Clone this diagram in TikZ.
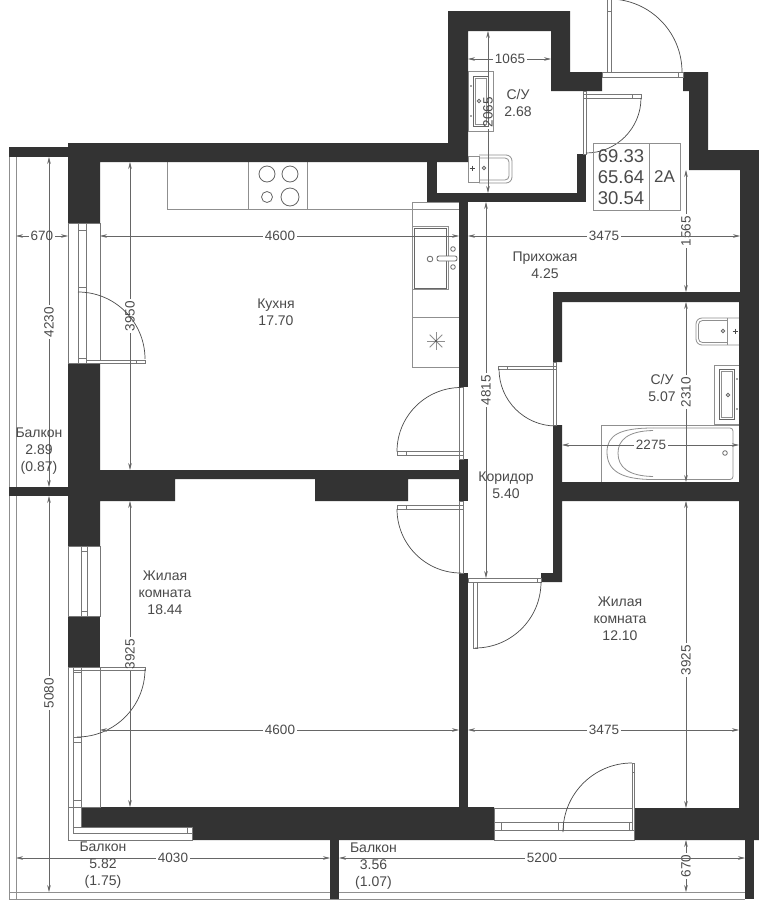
\documentclass[tikz,border=0pt]{standalone}
\usepackage{fontspec}
\setmainfont{Liberation Sans}
\usetikzlibrary{arrows.meta}
\definecolor{wallc}{HTML}{333333}
\definecolor{inkc}{HTML}{4A4A4A}
\definecolor{dimc}{HTML}{666666}
\definecolor{fixc}{HTML}{8F8F8F}
\definecolor{winc}{HTML}{777777}
\tikzset{
  x=1pt,y=-1pt,
  wall/.style={fill=wallc,draw=none},
  room/.style={align=center,text=inkc,font=\fontsize{14}{17}\selectfont,inner sep=0pt},
  tbl/.style={text=inkc,font=\fontsize{18.5}{21}\selectfont,inner sep=0pt},
  tblb/.style={text=inkc,font=\fontsize{17}{21}\selectfont,inner sep=0pt},
  dimlbl/.style={text=inkc,font=\fontsize{13.5}{14}\selectfont,inner xsep=2pt,inner ysep=0pt},
  dimln/.style={draw=dimc,line width=0.6pt,-{Stealth[length=7pt,width=3.6pt]}},
  fix/.style={draw=fixc,line width=0.8pt},
  win/.style={draw=winc,line width=0.7pt},
  swing/.style={draw=inkc,line width=0.7pt},
  bal/.style={draw=fixc,line width=0.9pt},
}
% vertical dimension: name, x, y1, y2, label, label y
\newcommand{\dimV}[6]{%
  \node[dimlbl,rotate=90] (#1) at (#2,#6) {#5};
  \coordinate (#1a) at (#2,#3);
  \coordinate (#1b) at (#2,#4);
  \draw[dimln] (#1.east) -- (#1a);
  \draw[dimln] (#1.west) -- (#1b);
}
% horizontal dimension: name, y, x1, x2, label, label x
\newcommand{\dimH}[6]{%
  \node[dimlbl] (#1) at (#6,#2) {#5};
  \coordinate (#1a) at (#3,#2);
  \coordinate (#1b) at (#4,#2);
  \draw[dimln] (#1.west) -- (#1a);
  \draw[dimln] (#1.east) -- (#1b);
}
\begin{document}
\begin{tikzpicture}
\useasboundingbox (0,0) rectangle (759,900);
\fill[white] (0,0) rectangle (759,900);

% ---------- balcony outlines
\draw[bal] (9,157) -- (9,899) -- (745,899);
\draw[bal] (16,157) -- (16,899);
\draw[bal] (9,892) -- (745,892);

% ---------- fixtures: kitchen
\draw[fix] (167,162) -- (167,209) -- (459,209);
\draw[fix] (248,162) -- (248,209);
\draw[fix] (307,162) -- (307,209);
\draw[fix,draw=dimc] (267,174) circle (8);
\draw[fix,draw=dimc] (290,174) circle (8);
\draw[fix,draw=dimc] (267,197) circle (5.5);
\draw[fix,draw=dimc] (290,197) circle (9);
\draw[fix] (459,202) -- (412,202) -- (412,367) -- (459,367);
\draw[fix] (412,317) -- (459,317);
\draw[fix] (412,226) -- (448,226) -- (448,289) -- (412,289);
\draw[fix,draw=dimc] (414,228) -- (446,228) -- (446,288) -- (414,288) -- cycle;
\draw[fix,draw=dimc] (430,259) circle (2.8);
\draw[fix,draw=dimc] (453,249) circle (2.3);
\draw[fix,draw=dimc] (453,267) circle (2.3);
\draw[fix,draw=dimc,fill=white,rounded corners=2pt] (437,256) rectangle (457,261);
\foreach \a in {0,45,...,315}{\draw[fix] (436,341) -- ++(\a:9);}
\fill[inkc] (436,341) circle (1.2);

% ---------- fixtures: S/U 2.68
\draw[fix] (468,71) rectangle (493,131);
\draw[fix,draw=dimc] (473,76) rectangle (488,126);
\draw[fix] (475,78) rectangle (486,124);
\fill[inkc] (471,86) circle (0.9);
\fill[inkc] (471,116) circle (0.9);
\draw[fix,draw=dimc] (479,101) circle (1.8);
\draw[fix] (468,156) rectangle (479,182);
\draw[fix,rounded corners=6pt] (479,155) -- (512,155) -- (512,183) -- (479,183);
\draw[fix,rounded corners=4pt] (479,158) -- (509,158) -- (509,180) -- (479,180);
\draw[fix,draw=dimc] (484,168) circle (1.7);
\draw[inkc,line width=0.8pt] (469.5,168) -- (474.5,168) (472,165.5) -- (472,170.5);

% ---------- fixtures: S/U 5.07
\draw[fix,rounded corners=6pt] (739,318) -- (696,318) -- (696,345) -- (739,345);
\draw[fix,rounded corners=4pt] (727,320.5) -- (698.5,320.5) -- (698.5,342.5) -- (727,342.5);
\draw[fix] (727,318) -- (727,345);
\draw[fix,draw=dimc] (723,331) circle (1.7);
\draw[inkc,line width=0.8pt] (732.5,331) -- (737.5,331) (735,328.5) -- (735,333.5);
\draw[fix] (739,365) -- (714,365) -- (714,424) -- (739,424);
\draw[fix,draw=dimc] (719,369) rectangle (734,419);
\draw[fix] (721,371) rectangle (732,417);
\draw[fix,draw=dimc] (728,395) circle (1.8);
\fill[inkc] (737,379) circle (0.9);
\fill[inkc] (737,409) circle (0.9);
\draw[fix] (739,425) -- (601,425) -- (601,482);
\draw[fix] (653,428) .. controls (620,428) and (607,435) .. (607,452) .. controls (607,470) and (620,479.5) .. (653,479.5);
\draw[fix,rounded corners=3pt] (653,428) -- (733,428) -- (733,479.5) -- (653,479.5);
\draw[fix] (653,430.5) .. controls (628,431) and (618,440) .. (618,453) .. controls (618,467) and (628,476) .. (653,476.5);
\draw[fix,draw=dimc] (725,453) circle (2.3);

% ---------- walls
\fill[wall] (448,11) -- (570,11) -- (570,72) -- (602,72) -- (602,91) -- (551,91) -- (551,31) -- (468,31)
  -- (468,162) -- (100,162) -- (100,223) -- (68,223) -- (68,143) -- (448,143) -- cycle;
\fill[wall] (427,162) rectangle (437,202);
\fill[wall] (427,193) rectangle (586,202);
\fill[wall] (577,154) rectangle (586,202);
\fill[wall] (683,72) -- (708,72) -- (708,150) -- (759,150) -- (759,840) -- (634,840) -- (634,808) -- (739,808)
  -- (739,501) -- (562,501) -- (562,582) -- (541,582) -- (541,573) -- (553,573) -- (553,425) -- (562,425) -- (562,482)
  -- (739,482) -- (739,302) -- (562,302) -- (562,362) -- (553,362) -- (553,292) -- (740,292) -- (740,170) -- (689,170)
  -- (689,91) -- (683,91) -- cycle;
\fill[wall] (459,202) rectangle (468,387);
\fill[wall] (459,459) rectangle (468,501);
\fill[wall] (459,573) rectangle (468,808);
\fill[wall] (68,363) -- (100,363) -- (100,470) -- (459,470) -- (459,479) -- (408,479) -- (408,501) -- (315,501)
  -- (315,479) -- (175,479) -- (175,501) -- (100,501) -- (100,546) -- (68,546) -- cycle;
\fill[wall] (68,616) rectangle (100,667);
\fill[wall] (9,147) rectangle (68,157);
\fill[wall] (9,487) rectangle (68,496);
\fill[wall] (81,807) -- (494,807) -- (494,840) -- (192,840) -- (192,827) -- (81,827) -- cycle;
\fill[wall] (330,840) rectangle (339,899);
\fill[wall] (745,840) rectangle (754,899);

% ---------- windows and doors
\draw[win] (68,223) rectangle (100,363);
\draw[win] (78,223) -- (78,363) (86,223) -- (86,363);
\draw[win] (78,230) -- (86,230) (78,287) -- (86,287) (78,358) -- (86,358);
\draw[win,fill=white] (86,360) rectangle (145,363);
\draw[win] (136,360) -- (136,363);
\draw[swing] (78,292) arc (90:0:67pt);
\draw[win] (68,546) rectangle (100,616);
\draw[win] (81,546) -- (81,616) (87,546) -- (87,616);
\draw[win] (81,551) -- (87,551) (81,611) -- (87,611);
\draw[win] (68,667) -- (68,840) -- (192,840) -- (192,827) -- (81,827);
\draw[win] (100,667) -- (100,807) -- (68,807);
\draw[win] (73,667) -- (73,833) -- (192,833);
\draw[win] (81,667) -- (81,827);
\draw[win] (68,667) -- (145,667) -- (145,670) -- (73,670);
\draw[win] (73,672) -- (81,672) (73,737) -- (81,737) (73,742) -- (81,742) (73,800) -- (81,800) (73,827) -- (81,827) (187,827) -- (187,833);
\draw[swing] (145,669) arc (0:-90:68pt);
\draw[win] (494,808) rectangle (634,840);
\draw[win] (494,822) -- (634,822) (494,830) -- (634,830);
\draw[win] (501,822) -- (501,830) (558,822) -- (558,830) (563,822) -- (563,830) (629,822) -- (629,830);
\draw[win,fill=white] (632,763) rectangle (634,830);
\draw[win] (632,772) -- (634,772);
\draw[swing] (632,763) arc (90:180:69pt);
\draw[win] (602,72) rectangle (683,77);
\draw[win] (678,72) -- (678,77);
\draw[win,fill=white] (607,-1) rectangle (611,72);
\draw[win] (607,11) -- (611,11);
\draw[swing] (609,-1) arc (90:0:73pt);
\draw[win] (583,91) rectangle (586,154);
\draw[win] (583,94) rectangle (641,98);
\draw[win] (632,94) -- (632,98);
\draw[swing] (641,98) arc (0:-90:55pt);
\draw[win] (553,362) rectangle (556,425);
\draw[win] (498,366) rectangle (556,369.5);
\draw[win] (507,366) -- (507,369.5);
\draw[swing] (499,369) arc (180:270:57pt);
\draw[win] (459,387) rectangle (463,459);
\draw[win] (397,451.5) rectangle (463,455);
\draw[win] (406,451.5) -- (406,455);
\draw[swing] (397,451.5) arc (180:90:64pt);
\draw[win] (459,501) rectangle (463,573);
\draw[win] (397,505.5) rectangle (463,509);
\draw[win] (406,505.5) -- (406,509);
\draw[swing] (397,509) arc (180:270:64pt);
\draw[win] (468,578) rectangle (541,582);
\draw[win] (537,578) -- (537,582);
\draw[win] (473,582) rectangle (477,648);
\draw[swing] (541,582) arc (0:-90:66pt);

% ---------- table
\node[draw=fixc,line width=0.8pt,minimum width=87pt,minimum height=67pt,inner sep=0pt] (tblbox) at (636.5,176.5) {};
\coordinate (tbltop) at (649,143);
\coordinate (tblbot) at (649,210);
\draw[fix] (tbltop) -- (tblbot);
\node[tbl] (areaA) at (621,156) {69.33};
\node[tbl] (areaB) at (621,177) {65.64};
\node[tbl] (areaC) at (621,198) {30.54};
\node[tblb] (flat) at (664.5,177) {2A};

% ---------- dimensions
\dimV{dSUv}{488}{31}{193}{2065}{112}
\dimV{dHallv}{686}{170}{292}{1565}{231}
\dimV{dKitv}{130}{162}{470}{3950}{316}
\dimV{dBalAv}{49}{157}{487}{4230}{322}
\dimV{dCorrv}{486}{202}{578}{4815}{390}
\dimV{dBathv}{686}{302}{482}{2310}{392}
\dimV{dBedv}{686}{501}{808}{3925}{660}
\dimV{dLivv}{130}{501}{807}{3925}{654}
\dimV{dBalBv}{49}{496}{892}{5080}{693}
\dimV{dBalCv}{686}{840}{892}{670}{866}
\dimH{dSUh}{59}{468}{551}{1065}{510}
\dimH{dHallh}{236}{468}{740}{3475}{604}
\dimH{dBalAh}{236}{16}{68}{670}{42}
\dimH{dKith}{236}{100}{459}{4600}{280}
\dimH{dBathh}{445}{562}{739}{2275}{651}
\dimH{dLivh}{730}{100}{459}{4600}{280}
\dimH{dBedh}{730}{468}{739}{3475}{604}
\dimH{dBalBh}{858}{16}{330}{4030}{173}
\dimH{dBalCh}{858}{339}{745}{5200}{542}

% ---------- room labels
\node[room] (kitchen) at (276,312.5) {Кухня\\17.70};
\node[room] (suA) at (518,102.5) {С/У\\2.68};
\node[room] (hall) at (545,265.5) {Прихожая\\4.25};
\node[room] (suB) at (662,387.5) {С/У\\5.07};
\node[room] (corr) at (506,485.5) {Коридор\\5.40};
\node[room] (living) at (165,593) {Жилая\\комната\\18.44};
\node[room] (bed) at (620,618.5) {Жилая\\комната\\12.10};
\node[room] (balA) at (39,451) {Балкон\\2.89\\(0.87)};
\node[room] (balB) at (103,865.5) {Балкон\\5.82\\(1.75)};
\node[room] (balC) at (373.5,866) {Балкон\\3.56\\(1.07)};
\end{tikzpicture}
\end{document}
